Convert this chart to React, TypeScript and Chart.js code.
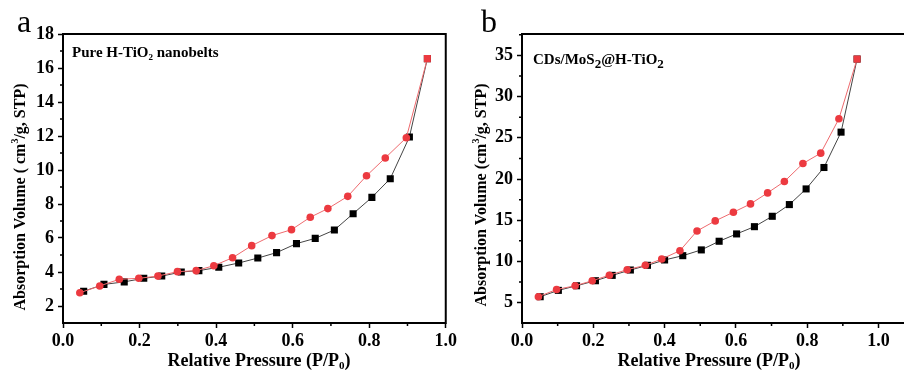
import React, { useEffect, useRef } from 'react';
import { Chart, registerables } from 'chart.js';
Chart.register(...registerables);

// Panel a: Pure H-TiO2 nanobelts
const aAdsX = [0.054, 0.107, 0.16, 0.211, 0.258, 0.309, 0.355, 0.407, 0.459, 0.509, 0.558, 0.61, 0.659, 0.709, 0.758, 0.807, 0.855, 0.905, 0.952];
const aAdsY = [2.87, 3.27, 3.42, 3.63, 3.76, 4.0, 4.08, 4.28, 4.53, 4.82, 5.14, 5.67, 5.98, 6.47, 7.43, 8.39, 9.49, 11.94, 16.55];
const aDesX = [0.044, 0.096, 0.147, 0.198, 0.248, 0.299, 0.348, 0.394, 0.443, 0.493, 0.546, 0.597, 0.646, 0.692, 0.744, 0.793, 0.842, 0.897, 0.952];
const aDesY = [2.78, 3.18, 3.57, 3.63, 3.76, 4.02, 4.08, 4.37, 4.84, 5.55, 6.14, 6.49, 7.22, 7.73, 8.45, 9.66, 10.71, 11.9, 16.55];

// Panel b: CDs/MoS2@H-TiO2
const bAdsX = [0.051, 0.102, 0.153, 0.206, 0.253, 0.304, 0.352, 0.4, 0.451, 0.503, 0.553, 0.602, 0.652, 0.702, 0.75, 0.797, 0.847, 0.895, 0.94];
const bAdsY = [5.72, 6.49, 7.05, 7.66, 8.31, 8.96, 9.53, 10.18, 10.7, 11.4, 12.45, 13.34, 14.22, 15.48, 16.9, 18.8, 21.4, 25.69, 34.56];
const bDesX = [0.046, 0.097, 0.149, 0.197, 0.245, 0.295, 0.346, 0.392, 0.443, 0.491, 0.542, 0.593, 0.641, 0.689, 0.736, 0.788, 0.838, 0.889, 0.94];
const bDesY = [5.72, 6.6, 7.05, 7.66, 8.33, 9.0, 9.53, 10.3, 11.3, 13.7, 14.92, 15.97, 16.98, 18.32, 19.7, 21.88, 23.14, 27.31, 34.56];

const xMajor = [0, 0.2, 0.4, 0.6, 0.8, 1.0];
const xMinor = [0.1, 0.3, 0.5, 0.7, 0.9];
const aYMajor = [2, 4, 6, 8, 10, 12, 14, 16, 18];
const aYMinor = [3, 5, 7, 9, 11, 13, 15, 17];
const bYMajor = [5, 10, 15, 20, 25, 30, 35];
const bYMinor = [7.5, 12.5, 17.5, 22.5, 27.5, 32.5, 37.5];

type Seg = { t: string; sub?: boolean; sup?: boolean };
const SERIF = '"Liberation Serif", "Times New Roman", serif';

function drawRich(ctx: CanvasRenderingContext2D, segs: Seg[], x: number, y: number, size: number, align: 'left' | 'center', rotate = false, subScale = 0.62) {
  ctx.save();
  ctx.translate(x, y);
  if (rotate) ctx.rotate(-Math.PI / 2);
  ctx.textBaseline = 'middle';
  ctx.textAlign = 'left';
  ctx.fillStyle = '#000';
  const fontFor = (s: Seg) => `bold ${s.sub || s.sup ? Math.round(size * subScale) : size}px ${SERIF}`;
  let total = 0;
  for (const s of segs) { ctx.font = fontFor(s); total += ctx.measureText(s.t).width; }
  let cx = align === 'center' ? -total / 2 : 0;
  for (const s of segs) {
    ctx.font = fontFor(s);
    const dy = s.sub ? size * 0.3 : s.sup ? -size * 0.35 : 0;
    ctx.fillText(s.t, cx, dy);
    cx += ctx.measureText(s.t).width;
  }
  ctx.restore();
}

type PanelCfg = {
  adsX: number[]; adsY: number[]; desX: number[]; desY: number[];
  yMajor: number[]; yMinor: number[]; yMin: number; yMax: number; xMax: number;
  yWidth: number; padRight: number;
  letter: string; letterX: number;
  xTitleX: number; yTitleX: number; yTitleY: number;
  yTitle: Seg[]; note: Seg[]; noteX: number; noteY: number; noteSize: number; noteSub: number;
};

function Panel({ cfg, width, left }: { cfg: PanelCfg; width: number; left: number }) {
  const ref = useRef<HTMLCanvasElement>(null);
  useEffect(() => {
    const canvas = ref.current!;
    const ads = cfg.adsX.map((x, i) => ({ x, y: cfg.adsY[i] }));
    const des = cfg.desX.map((x, i) => ({ x, y: cfg.desY[i] }));
    const decor = {
      id: 'decor',
      afterDraw(chart: any) {
        const ctx: CanvasRenderingContext2D = chart.ctx;
        const a = chart.chartArea;
        const xs = chart.scales.x, ys = chart.scales.y;
        ctx.save();
        ctx.strokeStyle = '#000';
        ctx.lineWidth = 1.5;
        ctx.beginPath();
        for (const v of xMinor) {
          if (v > cfg.xMax) continue;
          const px = xs.getPixelForValue(v);
          ctx.moveTo(px, a.bottom); ctx.lineTo(px, a.bottom + 3);
        }
        for (const v of cfg.yMinor) {
          if (v > cfg.yMax || v < cfg.yMin) continue;
          const py = ys.getPixelForValue(v);
          ctx.moveTo(a.left, py); ctx.lineTo(a.left - 3, py);
        }
        ctx.stroke();
        ctx.lineWidth = 2;
        ctx.strokeRect(a.left, a.top, a.right - a.left, a.bottom - a.top);
        ctx.restore();
        ctx.save();
        ctx.fillStyle = '#000';
        ctx.font = `32px ${SERIF}`;
        ctx.textBaseline = 'alphabetic';
        ctx.fillText(cfg.letter, cfg.letterX, 32);
        ctx.restore();
        drawRich(ctx, [{ t: 'Relative Pressure (P/P' }, { t: '0', sub: true }, { t: ')' }], cfg.xTitleX, 361, 18, 'center');
        drawRich(ctx, cfg.yTitle, cfg.yTitleX, cfg.yTitleY, 16, 'center', true);
        drawRich(ctx, cfg.note, cfg.noteX, cfg.noteY, cfg.noteSize, 'left', false, cfg.noteSub);
      },
    };
    const chart = new Chart(canvas, {
      type: 'scatter',
      data: {
        datasets: [
          {
            data: des, showLine: true, borderColor: '#ee6a6e', borderWidth: 1,
            pointStyle: (c: any) => (c.dataIndex === des.length - 1 ? 'rect' : 'circle'),
            pointRadius: (c: any) => (c.dataIndex === des.length - 1 ? 5 : 3.8),
            pointBackgroundColor: '#ec3a40', pointBorderColor: '#ec3a40', pointBorderWidth: 0,
          },
          {
            data: ads, showLine: true, borderColor: '#444', borderWidth: 1,
            pointStyle: 'rect', pointRadius: 5, pointBackgroundColor: '#000', pointBorderColor: '#000', pointBorderWidth: 0,
          },
        ],
      },
      options: {
        responsive: false,
        animation: false,
        devicePixelRatio: 1,
        layout: { padding: { top: 34, right: cfg.padRight, left: 0, bottom: 0 } },
        plugins: { legend: { display: false }, tooltip: { enabled: false } },
        scales: {
          x: {
            type: 'linear', min: 0, max: cfg.xMax,
            afterBuildTicks: (s: any) => { s.ticks = xMajor.filter(v => v <= cfg.xMax).map(v => ({ value: v })); },
            afterFit: (s: any) => { s.height = 50; },
            grid: { drawOnChartArea: false, drawTicks: true, tickLength: 5, tickColor: '#000', tickWidth: 1.5 },
            border: { display: false },
            ticks: { color: '#000', padding: 3, maxRotation: 0, font: { family: SERIF, size: 18, weight: 'bold' }, callback: (v: any) => Number(v).toFixed(1) },
          },
          y: {
            type: 'linear', min: cfg.yMin, max: cfg.yMax,
            afterBuildTicks: (s: any) => { s.ticks = cfg.yMajor.map(v => ({ value: v })); },
            afterFit: (s: any) => { s.width = cfg.yWidth; },
            grid: { drawOnChartArea: false, drawTicks: true, tickLength: 5, tickColor: '#000', tickWidth: 1.5 },
            border: { display: false },
            ticks: { color: '#000', padding: 4, font: { family: SERIF, size: 18, weight: 'bold' }, callback: (v: any) => String(v) },
          },
        },
      },
      plugins: [decor],
    } as any);
    return () => chart.destroy();
  }, [cfg]);
  return <canvas ref={ref} width={width} height={373} style={{ position: 'absolute', left, top: 0, width, height: 373 }} />;
}

const cfgA: PanelCfg = {
  adsX: aAdsX, adsY: aAdsY, desX: aDesX, desY: aDesY,
  yMajor: aYMajor, yMinor: aYMinor, yMin: 1, yMax: 18, xMax: 1.0,
  yWidth: 63, padRight: 6,
  letter: 'a', letterX: 17,
  xTitleX: 259, yTitleX: 21, yTitleY: 197,
  yTitle: [{ t: 'Absorption Volume ( cm' }, { t: '3', sup: true }, { t: '/g, STP)' }],
  note: [{ t: 'Pure H-TiO' }, { t: '2', sub: true }, { t: ' nanobelts' }], noteX: 72, noteY: 53, noteSize: 15, noteSub: 0.6,
};
const cfgB: PanelCfg = {
  adsX: bAdsX, adsY: bAdsY, desX: bDesX, desY: bDesY,
  yMajor: bYMajor, yMinor: bYMinor, yMin: 2.53, yMax: 37.6, xMax: 1.08,
  yWidth: 62, padRight: 3,
  letter: 'b', letterX: 21,
  xTitleX: 249, yTitleX: 22, yTitleY: 195,
  yTitle: [{ t: 'Absorption Volume (cm' }, { t: '3', sup: true }, { t: '/g, STP)' }],
  note: [{ t: 'CDs/MoS' }, { t: '2', sub: true }, { t: '@H-TiO' }, { t: '2', sub: true }], noteX: 73, noteY: 60, noteSize: 15, noteSub: 0.85,
};

export default function App() {
  return (
    <div style={{ position: 'absolute', left: 0, top: 0, width: 904, height: 373, overflow: 'hidden', background: '#fff' }}>
      <Panel cfg={cfgA} width={460} left={0} />
      <Panel cfg={cfgB} width={452} left={460} />
    </div>
  );
}
